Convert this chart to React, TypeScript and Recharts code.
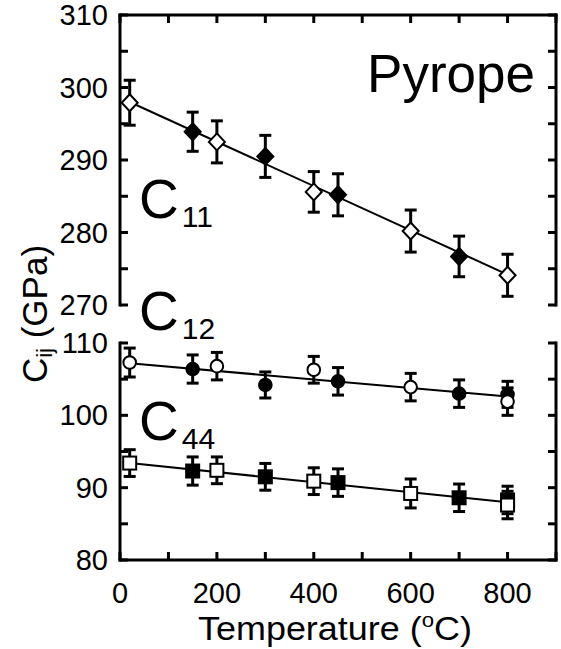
import React from 'react';
import { ComposedChart, XAxis, YAxis, Line, Scatter, ErrorBar } from 'recharts';

const W = 561;
const H = 649;
const FONT = '"Liberation Sans", Arial, Helvetica, sans-serif';

// temperature axis (ºC)
const xTicks = [0, 100, 200, 300, 400, 500, 600, 700, 800, 900];
const xLabels = [0, 200, 400, 600, 800];
const topTicks = [270, 275, 280, 285, 290, 295, 300, 305, 310];
const botTicks = [80, 85, 90, 95, 100, 105, 110];

// C11 - diamonds
const c11Open = [
  { x: 20, y: 297.9, e: 3.1 },
  { x: 200, y: 292.5, e: 2.9 },
  { x: 400, y: 285.6, e: 2.8 },
  { x: 600, y: 280.2, e: 2.9 },
  { x: 800, y: 274.1, e: 2.9 },
];
const c11Filled = [
  { x: 150, y: 293.9, e: 2.7 },
  { x: 300, y: 290.5, e: 2.9 },
  { x: 450, y: 285.2, e: 2.9 },
  { x: 700, y: 276.7, e: 2.8 },
];
const c11Fit = [
  { x: 20, y: 298.0 },
  { x: 800, y: 274.2 },
];

// C12 - circles
const c12Open = [
  { x: 20, y: 107.3, e: 2.0 },
  { x: 200, y: 106.8, e: 1.9 },
  { x: 400, y: 106.3, e: 1.85 },
  { x: 600, y: 103.9, e: 1.9 },
  { x: 800, y: 101.9, e: 1.9 },
];
const c12Filled = [
  { x: 150, y: 106.4, e: 1.95 },
  { x: 300, y: 104.2, e: 1.8 },
  { x: 450, y: 104.7, e: 1.9 },
  { x: 700, y: 103.0, e: 1.9 },
  { x: 800, y: 102.9, e: 1.8 },
];
const c12Fit = [
  { x: 20, y: 107.2 },
  { x: 800, y: 102.6 },
];

// C44 - squares
const c44Open = [
  { x: 20, y: 93.4, e: 1.85 },
  { x: 200, y: 92.4, e: 1.85 },
  { x: 400, y: 90.9, e: 1.85 },
  { x: 600, y: 89.2, e: 2.0 },
  { x: 800, y: 87.6, e: 1.9 },
];
const c44Filled = [
  { x: 150, y: 92.3, e: 1.95 },
  { x: 300, y: 91.5, e: 1.85 },
  { x: 450, y: 90.7, e: 1.9 },
  { x: 700, y: 88.6, e: 1.9 },
  { x: 800, y: 88.3, e: 1.9 },
];
const c44Fit = [
  { x: 20, y: 93.4 },
  { x: 800, y: 88.0 },
];

const axisLine = { stroke: '#000', strokeWidth: 3, strokeLinecap: 'square' as const };

function LeftTick(props: any) {
  const { x, y, payload } = props;
  const v = payload.value;
  return (
    <g>
      <line x1={x} x2={x + 8} y1={y} y2={y} stroke="#000" strokeWidth={3} />
      {v % 10 === 0 && (
        <text x={x - 12} y={y + 10} textAnchor="end" fontSize={29} fontFamily={FONT} fill="#000">
          {v}
        </text>
      )}
    </g>
  );
}

function RightTick(props: any) {
  const { x, y } = props;
  return <line x1={x} x2={x - 8} y1={y} y2={y} stroke="#000" strokeWidth={3} />;
}

function TopTick(props: any) {
  const { x, y } = props;
  return <line x1={x} x2={x} y1={y} y2={y + 8} stroke="#000" strokeWidth={3} />;
}

function BottomTick(props: any) {
  const { x, y, payload } = props;
  const v = payload.value;
  return (
    <g>
      <line x1={x} x2={x} y1={y} y2={y - 8} stroke="#000" strokeWidth={3} />
      {xLabels.includes(v) && (
        <text x={x} y={y + 43} textAnchor="middle" fontSize={29} fontFamily={FONT} fill="#000">
          {v}
        </text>
      )}
    </g>
  );
}

const diamond = (fill: string) => (p: any) => (
  <path
    d={`M${p.cx},${p.cy - 8.5}L${p.cx + 8},${p.cy}L${p.cx},${p.cy + 8.5}L${p.cx - 8},${p.cy}Z`}
    fill={fill}
    stroke="#000"
    strokeWidth={2}
  />
);
const circle = (fill: string) => (p: any) => (
  <circle cx={p.cx} cy={p.cy} r={6.3} fill={fill} stroke="#000" strokeWidth={2} />
);
const square = (fill: string) => (p: any) => (
  <rect x={p.cx - 6.5} y={p.cy - 6.5} width={13} height={13} fill={fill} stroke="#000" strokeWidth={2} />
);

const errBar = <ErrorBar dataKey="e" direction="y" width={6} stroke="#000" strokeWidth={3} />;

export default function App() {
  const fitLine = (data: any[]) => (
    <Line
      data={data}
      dataKey="y"
      yAxisId="r"
      dot={false}
      stroke="#000"
      strokeWidth={2}
      isAnimationActive={false}
    />
  );
  const scat = (data: any[], shape: any) => (
    <Scatter data={data} dataKey="y" shape={shape} isAnimationActive={false}>
      {errBar}
    </Scatter>
  );

  return (
    <div style={{ position: 'absolute', left: 0, top: 0, width: W, height: H, background: '#fff' }}>
      {/* upper panel: C11 */}
      <div style={{ position: 'absolute', left: 0, top: 0 }}>
        <ComposedChart width={W} height={H} margin={{ top: 0, right: 0, bottom: 344, left: 0 }}>
          <XAxis
            type="number"
            dataKey="x"
            orientation="top"
            height={15}
            domain={[0, 900]}
            ticks={xTicks}
            interval={0}
            tickSize={0}
            tickMargin={0}
            tickLine={false}
            axisLine={axisLine}
            tick={<TopTick />}
          />
          <YAxis
            type="number"
            dataKey="y"
            width={120}
            domain={[270, 310]}
            ticks={topTicks}
            interval={0}
            tickSize={0}
            tickMargin={0}
            tickLine={false}
            axisLine={axisLine}
            tick={<LeftTick />}
          />
          <YAxis
            yAxisId="r"
            type="number"
            dataKey="y"
            orientation="right"
            width={5}
            domain={[270, 310]}
            ticks={topTicks}
            interval={0}
            tickSize={0}
            tickMargin={0}
            tickLine={false}
            axisLine={axisLine}
            tick={<RightTick />}
          />
          {fitLine(c11Fit)}
          {scat(c11Filled, diamond('#000'))}
          {scat(c11Open, diamond('#fff'))}
        </ComposedChart>
      </div>

      {/* lower panel: C12 and C44 */}
      <div style={{ position: 'absolute', left: 0, top: 0 }}>
        <ComposedChart width={W} height={H} margin={{ top: 343, right: 0, bottom: 0, left: 0 }}>
          <XAxis
            type="number"
            dataKey="x"
            height={89}
            domain={[0, 900]}
            ticks={xTicks}
            interval={0}
            tickSize={0}
            tickMargin={0}
            tickLine={false}
            axisLine={axisLine}
            tick={<BottomTick />}
          />
          <YAxis
            type="number"
            dataKey="y"
            width={120}
            domain={[80, 110]}
            ticks={botTicks}
            interval={0}
            tickSize={0}
            tickMargin={0}
            tickLine={false}
            axisLine={axisLine}
            tick={<LeftTick />}
          />
          <YAxis
            yAxisId="r"
            type="number"
            dataKey="y"
            orientation="right"
            width={5}
            domain={[80, 110]}
            ticks={botTicks}
            interval={0}
            tickSize={0}
            tickMargin={0}
            tickLine={false}
            axisLine={axisLine}
            tick={<RightTick />}
          />
          {fitLine(c12Fit)}
          {fitLine(c44Fit)}
          {scat(c12Filled, circle('#000'))}
          {scat(c12Open, circle('#fff'))}
          {scat(c44Filled, square('#000'))}
          {scat(c44Open, square('#fff'))}
        </ComposedChart>
      </div>

      {/* text labels */}
      <svg
        width={W}
        height={H}
        style={{ position: 'absolute', left: 0, top: 0, pointerEvents: 'none' }}
        fontFamily={FONT}
      >
        <text x={535} y={92} textAnchor="end" fontSize={53}>Pyrope</text>
        <text x={139} y={218} fontSize={55}>
          C<tspan fontSize={30} dx={3} dy={9}>11</tspan>
        </text>
        <text x={139} y={330} fontSize={55}>
          C<tspan fontSize={30} dx={3} dy={9}>12</tspan>
        </text>
        <text x={139} y={440} fontSize={55}>
          C<tspan fontSize={30} dx={3} dy={9}>44</tspan>
        </text>
        <text x={198} y={640} fontSize={34} textLength={274} lengthAdjust="spacingAndGlyphs">
          Temperature (<tspan fontSize={21} dy={-13}>o</tspan>
          <tspan dy={13}>C)</tspan>
        </text>
        <text x={47} y={314} textAnchor="middle" fontSize={35} transform="rotate(-90 47 314)">
          C<tspan fontSize={22} dy={5}>ij</tspan>
          <tspan dy={-5}> (GPa)</tspan>
        </text>
      </svg>
    </div>
  );
}
